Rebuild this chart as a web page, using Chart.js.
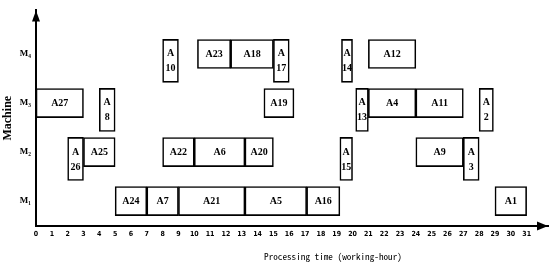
<!DOCTYPE html>
<html>
<head>
<meta charset="utf-8">
<script src="https://cdn.jsdelivr.net/npm/chart.js@4.4.1/dist/chart.umd.min.js"></script>
<style>
  html, body { margin: 0; padding: 0; background: #fff; }
  #wrap { width: 550px; height: 268px; }
</style>
</head>
<body>
<div id="wrap"><canvas id="c" width="550" height="268"></canvas></div>
<script>
// ---- data ----
const machines = ['M\u2081', 'M\u2082', 'M\u2083', 'M\u2084'];
const xTickMax = 31;
const xTitle = 'Processing time (working-hour)';
const yTitle = 'Machine';

const jobNames   = ['A24','A7','A21','A5','A16','A1',
                    'A26','A25','A22','A6','A20','A15','A9','A3',
                    'A27','A8','A19','A13','A4','A11','A2',
                    'A10','A23','A18','A17','A14','A12'];
const jobMachine = [1,1,1,1,1,1,
                    2,2,2,2,2,2,2,2,
                    3,3,3,3,3,3,3,
                    4,4,4,4,4,4];
const jobStart   = [5,7,9,13.2,17.1,29,
                    2,3,8,10,13.2,19.2,24,27,
                    0,4,14.4,20.2,21,24,28,
                    8,10.2,12.3,15,19.3,21];
const jobEnd     = [7,9,13.2,17.1,19.2,31,
                    3,5,10,13.2,15,20,27,28,
                    3,5,16.3,21,24,27,28.9,
                    9,12.3,15,16,20,24];

// ---- build datasets ----
const TALL_SHIFT = 0.14;
const wide = [], tall = [];
jobNames.forEach((n, i) => {
  const isTall = (jobEnd[i] - jobStart[i]) <= 1.0001;
  const pt = { x: [jobStart[i], jobEnd[i]], y: jobMachine[i] - (isTall ? TALL_SHIFT : 0), name: n };
  (isTall ? tall : wide).push(pt);
});

const labelPlugin = {
  id: 'boxLabels',
  afterDatasetsDraw(chart) {
    const ctx = chart.ctx;
    ctx.save();
    ctx.fillStyle = '#000';
    ctx.textAlign = 'center';
    ctx.textBaseline = 'middle';
    ctx.font = 'bold 10px "Liberation Serif", "Times New Roman", serif';
    chart.data.datasets.forEach((ds, di) => {
      const meta = chart.getDatasetMeta(di);
      meta.data.forEach((el, j) => {
        const p = ds.data[j];
        const cx = (el.x + el.base) / 2;
        const cy = el.y;
        if (ds.isTall) {
          ctx.fillText('A', cx, cy - 7);
          ctx.fillText(p.name.slice(1), cx, cy + 8);
        } else {
          ctx.fillText(p.name, cx, cy + 0.5);
        }
      });
    });
    ctx.restore();
  }
};

const axesPlugin = {
  id: 'axisArrows',
  afterDraw(chart) {
    const ctx = chart.ctx;
    const a = chart.chartArea;
    ctx.save();
    ctx.fillStyle = '#000';
    // x arrow
    ctx.beginPath();
    ctx.moveTo(a.right, a.bottom);
    ctx.lineTo(a.right - 11, a.bottom - 4.5);
    ctx.lineTo(a.right - 11, a.bottom + 4.5);
    ctx.closePath();
    ctx.fill();
    // y arrow
    ctx.beginPath();
    ctx.moveTo(a.left, a.top);
    ctx.lineTo(a.left - 4, a.top + 11);
    ctx.lineTo(a.left + 4, a.top + 11);
    ctx.closePath();
    ctx.fill();
    // x title
    ctx.font = '9.2px "Noto Sans Mono CJK SC", "DejaVu Sans Mono", monospace';
    ctx.textAlign = 'center';
    ctx.textBaseline = 'middle';
    ctx.fillText(xTitle, a.left + (a.right - a.left) * 0.58, 256.5);
    ctx.restore();
  }
};

new Chart(document.getElementById('c'), {
  type: 'bar',
  data: {
    datasets: [
      { data: wide, isTall: false, barThickness: 29, grouped: false,
        backgroundColor: '#fff', borderColor: '#000', borderWidth: 1.6, borderSkipped: false },
      { data: tall, isTall: true, barThickness: 43, grouped: false,
        backgroundColor: '#fff', borderColor: '#000', borderWidth: 1.6, borderSkipped: false }
    ]
  },
  options: {
    indexAxis: 'y',
    responsive: false,
    animation: false,
    layout: { padding: { top: 7, right: 2, left: 0, bottom: 0 } },
    plugins: { legend: { display: false }, tooltip: { enabled: false } },
    scales: {
      x: {
        type: 'linear', min: 0, max: 32.35,
        grid: { display: false, drawTicks: false },
        border: { display: true, color: '#000', width: 2 },
        ticks: {
          stepSize: 1, includeBounds: false, autoSkip: false, maxRotation: 0, padding: 4,
          color: '#000',
          font: { family: '"DejaVu Sans Condensed", "Liberation Sans", sans-serif', size: 7, weight: 'bold' },
          callback: v => (Number.isInteger(v) && v <= xTickMax) ? String(v) : ''
        },
        afterFit: s => { s.height = 42; }
      },
      y: {
        type: 'linear', min: 0.492, max: 4.89, offset: false,
        grid: { display: false, drawTicks: false },
        border: { display: true, color: '#000', width: 2 },
        ticks: {
          stepSize: 1, includeBounds: false, padding: 5, color: '#000',
          font: { family: '"Liberation Serif", "DejaVu Serif", serif', size: 9, weight: 'bold' },
          callback: v => (Number.isInteger(v) && v >= 1 && v <= machines.length) ? machines[v - 1] : ''
        },
        title: {
          display: true, text: yTitle, color: '#000',
          font: { family: '"Liberation Serif", "Times New Roman", serif', size: 12, weight: 'bold' },
          padding: { top: 1, bottom: 0 }
        },
        afterFit: s => { s.width = 36; }
      }
    }
  },
  plugins: [labelPlugin, axesPlugin]
});
</script>
</body>
</html>
